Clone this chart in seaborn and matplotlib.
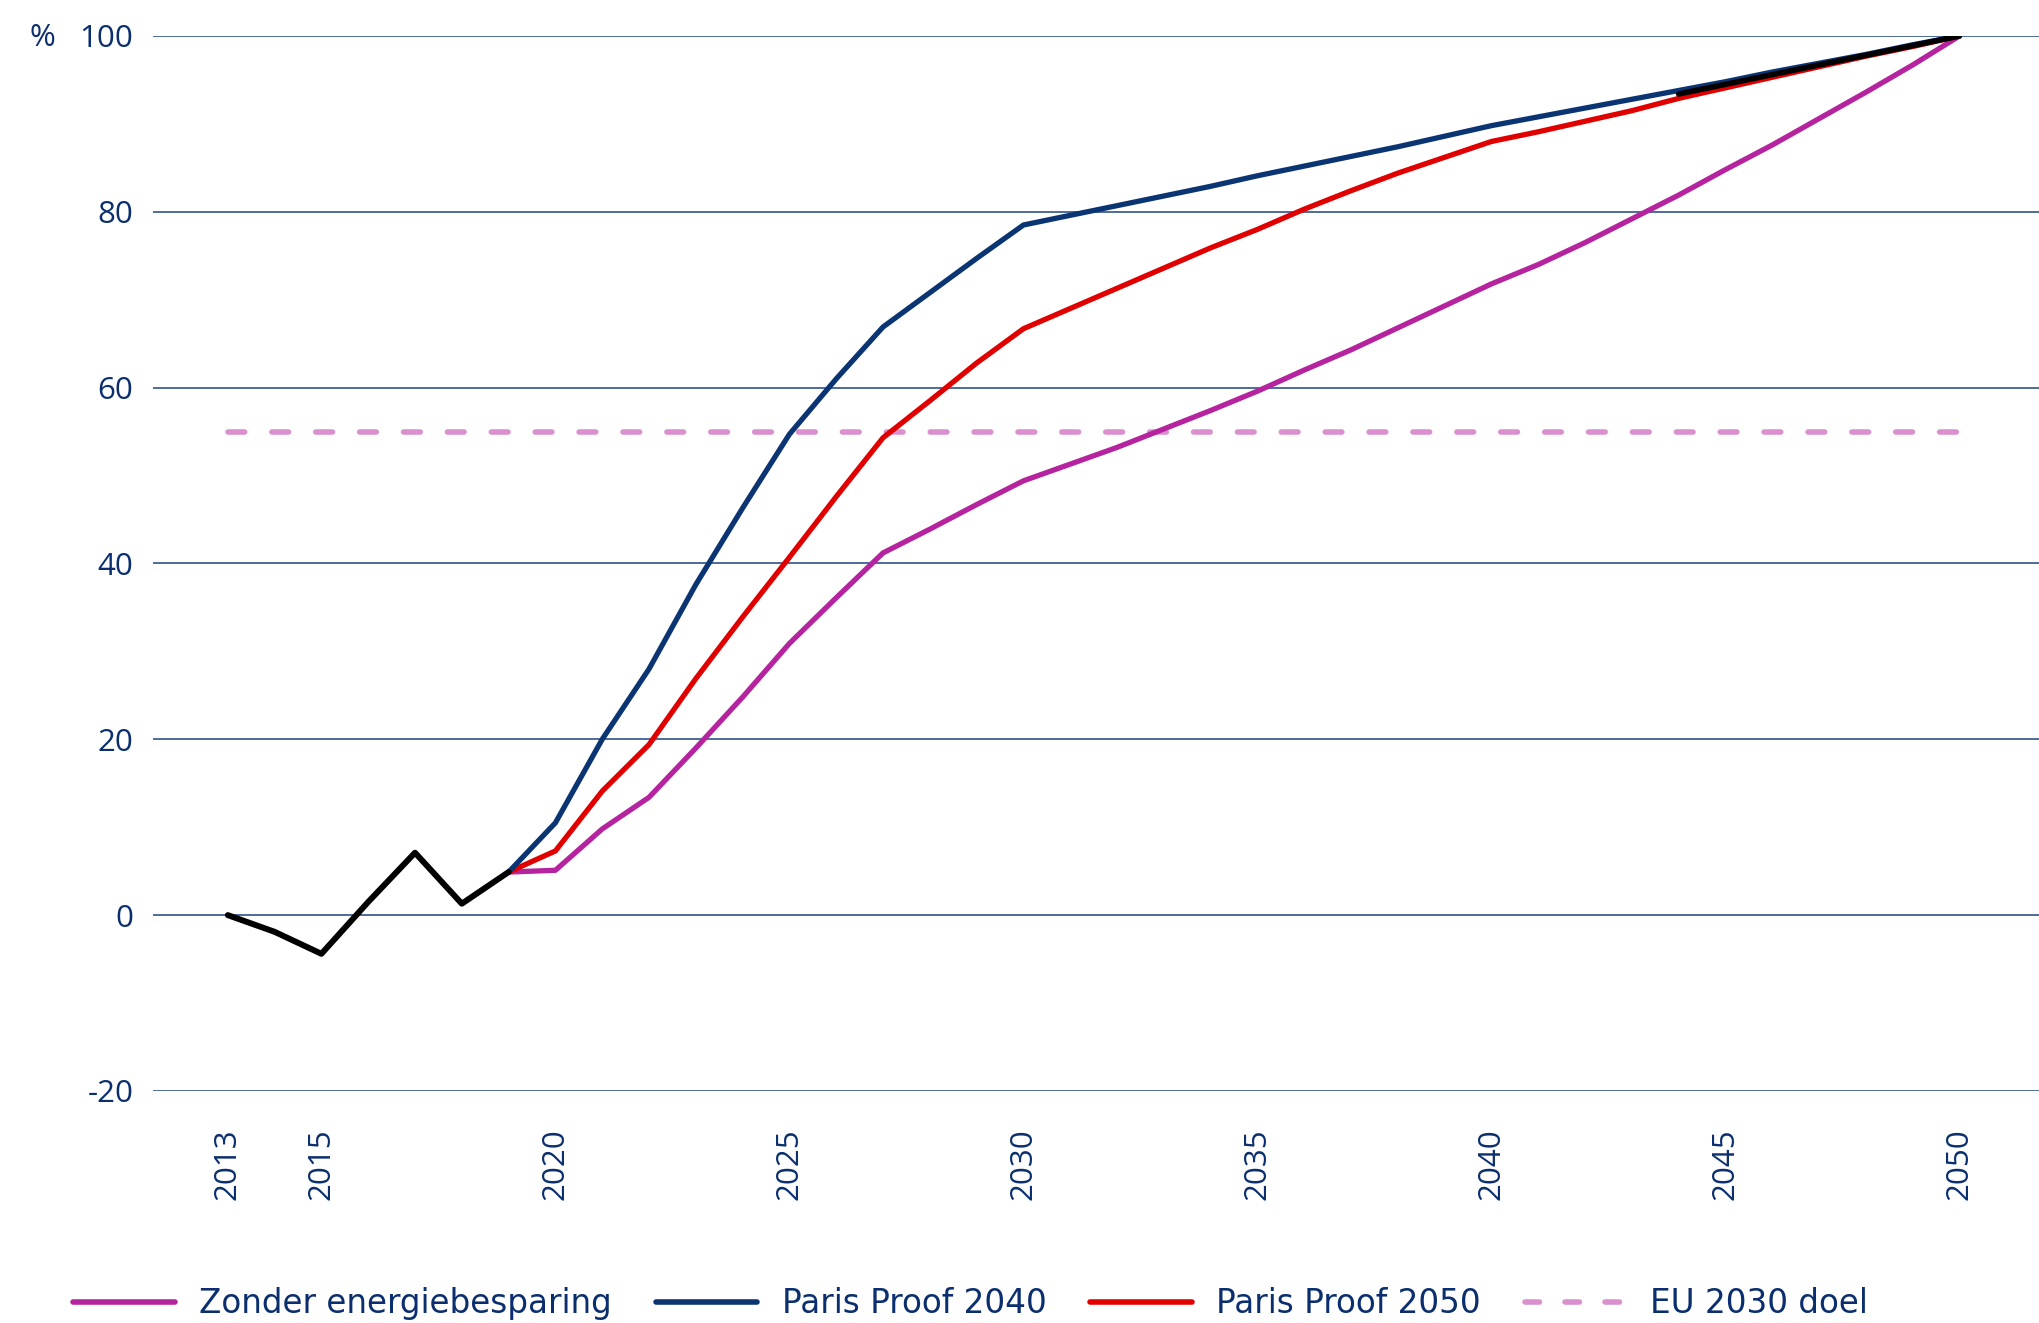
import pandas as pd
import matplotlib.pyplot as plt
import seaborn as sns

# historic values (realisatie)
hist_years = [2013, 2014, 2015, 2016, 2017, 2018, 2019]
hist_vals = [0, -1.9, -4.4, 1.5, 7.1, 1.3, 4.9]

# projections 2019-2050
proj_years = list(range(2019, 2051))
zonder = [4.9, 5.1, 9.8, 13.4, 19.0, 24.8, 30.9, 36.1, 41.2, 43.9, 46.7, 49.4,
          51.3, 53.2, 55.3, 57.4, 59.6, 62.0, 64.3, 66.8, 69.3, 71.8,
          74.0, 76.5, 79.2, 81.9, 84.8, 87.6, 90.6, 93.6, 96.7, 100]
pp2040 = [4.9, 10.5, 20.0, 28.0, 37.6, 46.3, 54.7, 61.0, 66.9, 70.8, 74.7, 78.5,
          79.6, 80.7, 81.8, 82.9, 84.1, 85.2, 86.3, 87.4, 88.6, 89.8,
          90.8, 91.8, 92.8, 93.8, 94.8, 95.9, 96.9, 97.9, 99.0, 100]
pp2050 = [4.9, 7.3, 14.1, 19.4, 26.9, 33.9, 40.7, 47.6, 54.3, 58.5, 62.8, 66.7,
          69.0, 71.3, 73.6, 75.9, 78.0, 80.3, 82.4, 84.4, 86.2, 88.0,
          89.1, 90.3, 91.5, 92.9, 94.1, 95.3, 96.5, 97.7, 98.8, 100]

# black segment at the end
late_years = [2044, 2045, 2046, 2047, 2048, 2049, 2050]
late_vals = [93.4, 94.5, 95.6, 96.7, 97.8, 98.9, 100]

eu_years = [2013, 2050]
eu_doel = [55, 55]

xticks = [2013, 2015, 2020, 2025, 2030, 2035, 2040, 2045, 2050]
yticks = [-20, 0, 20, 40, 60, 80, 100]

navy = '#0b2f6e'
grid_col = '#1d4382'
c_zonder = '#b5239f'
c_2040 = '#0a3472'
c_2050 = '#e00000'
c_eu = '#da90cf'

sns.set_style('white')
plt.rcParams['font.family'] = ['Open Sans', 'DejaVu Sans']
plt.rcParams['axes.unicode_minus'] = False

proj = pd.DataFrame({'jaar': proj_years, 'zonder': zonder,
                     'pp2040': pp2040, 'pp2050': pp2050})
hist = pd.DataFrame({'jaar': hist_years, 'waarde': hist_vals})
late = pd.DataFrame({'jaar': late_years, 'waarde': late_vals})
eu = pd.DataFrame({'jaar': eu_years, 'waarde': eu_doel})

fig = plt.figure(figsize=(20.39, 13.23), dpi=100)
ax = fig.add_axes([0.075, 0.1754, 0.925, 0.7974])

for y in yticks:
    ax.axhline(y, color=grid_col, lw=1.1, zorder=0)

sns.lineplot(data=eu, x='jaar', y='waarde', ax=ax, color=c_eu, lw=4,
             dashes=False, zorder=1)
ax.lines[-1].set_dashes([3.0, 4.9])
ax.lines[-1].set_dash_capstyle('round')
sns.lineplot(data=proj, x='jaar', y='zonder', ax=ax, color=c_zonder, lw=3.8, zorder=2)
sns.lineplot(data=proj, x='jaar', y='pp2050', ax=ax, color=c_2050, lw=3.8, zorder=3)
sns.lineplot(data=proj, x='jaar', y='pp2040', ax=ax, color=c_2040, lw=3.8, zorder=4)
sns.lineplot(data=hist, x='jaar', y='waarde', ax=ax, color='black', lw=4.3, zorder=5)
sns.lineplot(data=late, x='jaar', y='waarde', ax=ax, color='black', lw=4, zorder=5)
for ln in ax.lines:
    ln.set_solid_capstyle('round')

ax.set_xlim(2011.4, 2051.7)
ax.set_ylim(-20, 100)
ax.set_xticks(xticks)
ax.set_yticks(yticks)
ax.set_xticklabels([str(t) for t in xticks], rotation=90, va='top', ha='center')
ax.set_xlabel('')
ax.set_ylabel('')
ax.tick_params(axis='both', length=0, labelsize=22.5, colors=navy)
ax.tick_params(axis='x', pad=27)
ax.tick_params(axis='y', pad=14)
for s in ax.spines.values():
    s.set_visible(False)

fig.text(42 / 2039, 1 - 38 / 1323, '%', ha='center', va='center',
         fontsize=22.5, color=navy)

handles = [
    plt.Line2D([], [], color=c_zonder, lw=4, solid_capstyle='round'),
    plt.Line2D([], [], color=c_2040, lw=4, solid_capstyle='round'),
    plt.Line2D([], [], color=c_2050, lw=4, solid_capstyle='round'),
    plt.Line2D([], [], color=c_eu, lw=4, dashes=[2.6, 4.6], dash_capstyle='round'),
]
labels = ['Zonder energiebesparing', 'Paris Proof 2040', 'Paris Proof 2050', 'EU 2030 doel']
leg = fig.legend(handles, labels, loc='center left', bbox_to_anchor=(0.036, 0.0145),
                 ncol=4, frameon=False, handlelength=3.1,
                 handletextpad=0.75, columnspacing=1.35, borderpad=0,
                 borderaxespad=0, prop={'family': 'DejaVu Sans', 'size': 23.5})
for t in leg.get_texts():
    t.set_color(navy)

fig.savefig('out.png', dpi=100)
